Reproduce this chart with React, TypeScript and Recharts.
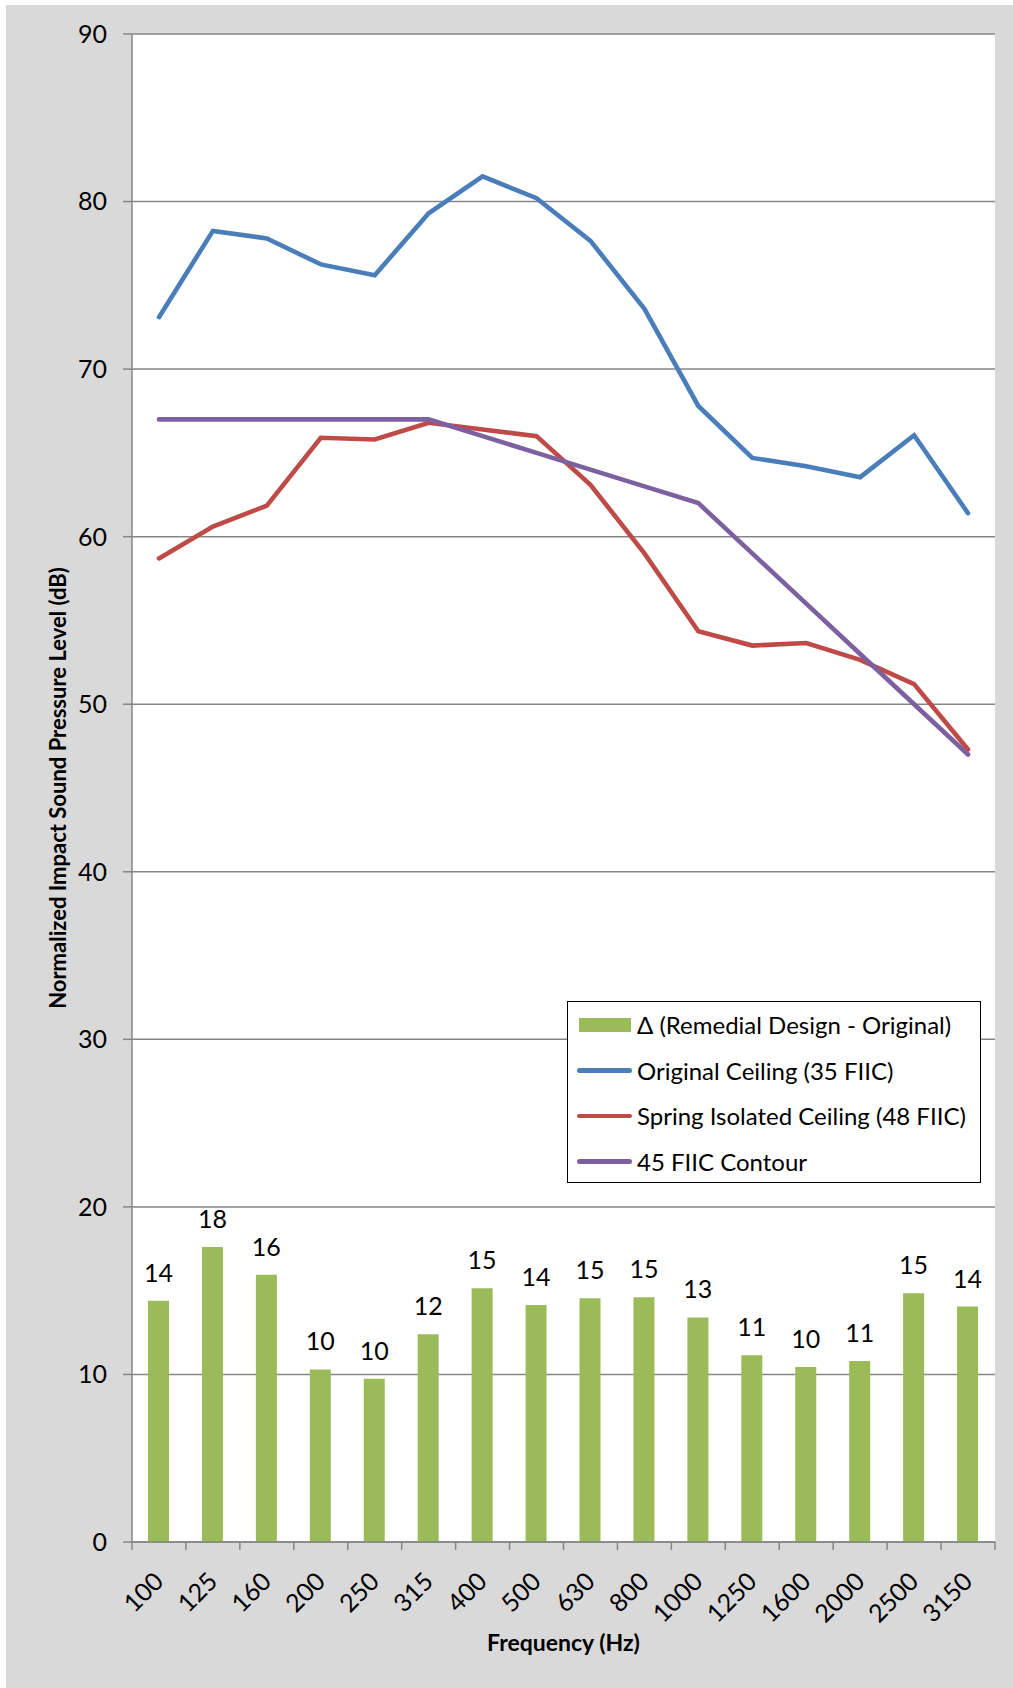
import React from 'react'
import { ComposedChart, Bar, Line, XAxis, YAxis, CartesianGrid, LabelList, Legend, Label } from 'recharts'

const FREQUENCIES = ['100', '125', '160', '200', '250', '315', '400', '500', '630', '800', '1000', '1250', '1600', '2000', '2500', '3150']
// Δ bars (remedial - original)
const DELTA = [14.4, 17.6, 15.95, 10.3, 9.75, 12.4, 15.15, 14.15, 14.55, 14.6, 13.4, 11.15, 10.45, 10.8, 14.85, 14.05]
const ORIGINAL = [73.1, 78.25, 77.8, 76.25, 75.6, 79.3, 81.5, 80.2, 77.65, 73.6, 67.8, 64.7, 64.2, 63.55, 66.05, 61.4]
const SPRING = [58.7, 60.6, 61.85, 65.9, 65.8, 66.8, 66.4, 66.0, 63.1, 59.0, 54.35, 53.5, 53.65, 52.65, 51.2, 47.3]
const CONTOUR = [67, 67, 67, 67, 67, 67, 66, 65, 64, 63, 62, 59, 56, 53, 50, 47]
const Y_TICKS = [0, 10, 20, 30, 40, 50, 60, 70, 80, 90]

const NAMES = {
  delta: 'Δ (Remedial Design - Original)',
  original: 'Original Ceiling (35 FIIC)',
  spring: 'Spring Isolated Ceiling (48 FIIC)',
  contour: '45 FIIC Contour',
}
const LEGEND_ORDER = [NAMES.delta, NAMES.original, NAMES.spring, NAMES.contour]

const GREEN = '#9BBB59'
const BLUE = '#4A7EBB'
const RED = '#BE4B48'
const PURPLE = '#7D60A0'
const GRID = '#868686'
const FONT = 'Lato, "Open Sans", sans-serif'
const FS = 25

const data = FREQUENCIES.map((f, i) => ({
  freq: f,
  delta: DELTA[i],
  original: ORIGINAL[i],
  spring: SPRING[i],
  contour: CONTOUR[i],
}))

function FreqTick(props: any) {
  const { x, y, payload, index } = props
  const half = payload && payload.offset ? payload.offset : 27
  const ax = x + 6
  const ay = y + 41
  return (
    <g>
      <line x1={x - half} x2={x - half} y1={y} y2={y + 8} stroke={GRID} strokeWidth={1.5} />
      {index === FREQUENCIES.length - 1 && (
        <line x1={x + half} x2={x + half} y1={y} y2={y + 8} stroke={GRID} strokeWidth={1.5} />
      )}
      <text x={ax} y={ay} textAnchor="end" transform={`rotate(-45, ${ax}, ${ay})`} fontSize={FS} fill="#000" fontFamily={FONT}>
        {payload.value}
      </text>
    </g>
  )
}

function LegendBox(props: any) {
  const items = [...(props.payload || [])].sort(
    (a: any, b: any) => LEGEND_ORDER.indexOf(a.value) - LEGEND_ORDER.indexOf(b.value)
  )
  return (
    <div style={{ width: 414, height: 182, border: '1.5px solid #000', background: '#fff', boxSizing: 'border-box', paddingTop: 0 }}>
      {items.map((it: any) => (
        <div key={it.value} style={{ display: 'flex', alignItems: 'center', height: 45.5, fontFamily: FONT, fontSize: 24, color: '#000' }}>
          {it.type === 'rect' ? (
            <span style={{ display: 'inline-block', width: 52, height: 14, background: it.color, marginLeft: 11, marginRight: 6 }} />
          ) : (
            <span style={{ display: 'inline-block', width: 55, height: 4.5, borderRadius: 3, background: it.color, marginLeft: 9, marginRight: 5 }} />
          )}
          <span style={{ whiteSpace: 'nowrap' }}>{it.value}</span>
        </div>
      ))}
    </div>
  )
}

export default function App() {
  return (
    <div style={{ position: 'absolute', left: 0, top: 0, width: 1013, height: 1688, background: '#fff', fontFamily: FONT }}>
      <div style={{ position: 'absolute', left: 6, top: 5, right: 0, bottom: 0, background: '#D9D9D9' }} />
      <div style={{ position: 'absolute', left: 0, top: 0 }}>
        <ComposedChart width={1013} height={1688} data={data} margin={{ top: 34, right: 18, bottom: 0, left: 0 }}>
          <CartesianGrid vertical={false} stroke={GRID} strokeWidth={1.5} fill="#fff" />
          <XAxis
            dataKey="freq"
            height={146}
            interval={0}
            tickSize={0}
            tickMargin={0}
            tickLine={false}
            axisLine={{ stroke: GRID, strokeWidth: 1.5 }}
            tick={<FreqTick />}
          >
            <Label
              content={(p: any) => {
                const vb = p.viewBox || { x: 132, y: 1542, width: 863 }
                return (
                  <text x={vb.x + vb.width / 2} y={vb.y + 109} textAnchor="middle" fontSize={23} fontWeight="bold" fontFamily={FONT} fill="#000">
                    Frequency (Hz)
                  </text>
                )
              }}
            />
          </XAxis>
          <YAxis
            domain={[0, 90]}
            ticks={Y_TICKS}
            width={132}
            tickSize={9}
            tickMargin={16}
            tickLine={{ stroke: GRID, strokeWidth: 1.5 }}
            axisLine={{ stroke: GRID, strokeWidth: 1.5 }}
            tick={{ fill: '#000', fontSize: FS, fontFamily: FONT }}
          >
            <Label
              content={(p: any) => {
                const vb = p.viewBox || { y: 34, height: 1508 }
                const cy = vb.y + vb.height / 2
                return (
                  <text x={57} y={cy} transform={`rotate(-90, 57, ${cy})`} textAnchor="middle" dominantBaseline="central" fontSize={22} fontWeight="bold" fontFamily={FONT} fill="#000">
                    Normalized Impact Sound Pressure Level (dB)
                  </text>
                )
              }}
            />
          </YAxis>
          <Bar dataKey="delta" name={NAMES.delta} fill={GREEN} barSize={21} isAnimationActive={false} legendType="rect">
            <LabelList
              dataKey="delta"
              position="top"
              offset={19}
              formatter={(v: any) => Math.round(Number(v))}
              style={{ fill: '#000', fontSize: FS, fontFamily: FONT }}
            />
          </Bar>
          <Line type="linear" dataKey="original" name={NAMES.original} stroke={BLUE} strokeWidth={4.6} strokeLinecap="round" dot={false} activeDot={false} isAnimationActive={false} legendType="line" />
          <Line type="linear" dataKey="spring" name={NAMES.spring} stroke={RED} strokeWidth={4.6} strokeLinecap="round" dot={false} activeDot={false} isAnimationActive={false} legendType="line" />
          <Line type="linear" dataKey="contour" name={NAMES.contour} stroke={PURPLE} strokeWidth={4.6} strokeLinecap="round" dot={false} activeDot={false} isAnimationActive={false} legendType="line" />
          <Legend
            layout="vertical"
            align="center"
            verticalAlign="middle"
            content={<LegendBox />}
            wrapperStyle={{ left: 567, top: 1001, width: 414, height: 182 }}
          />
        </ComposedChart>
      </div>
    </div>
  )
}
